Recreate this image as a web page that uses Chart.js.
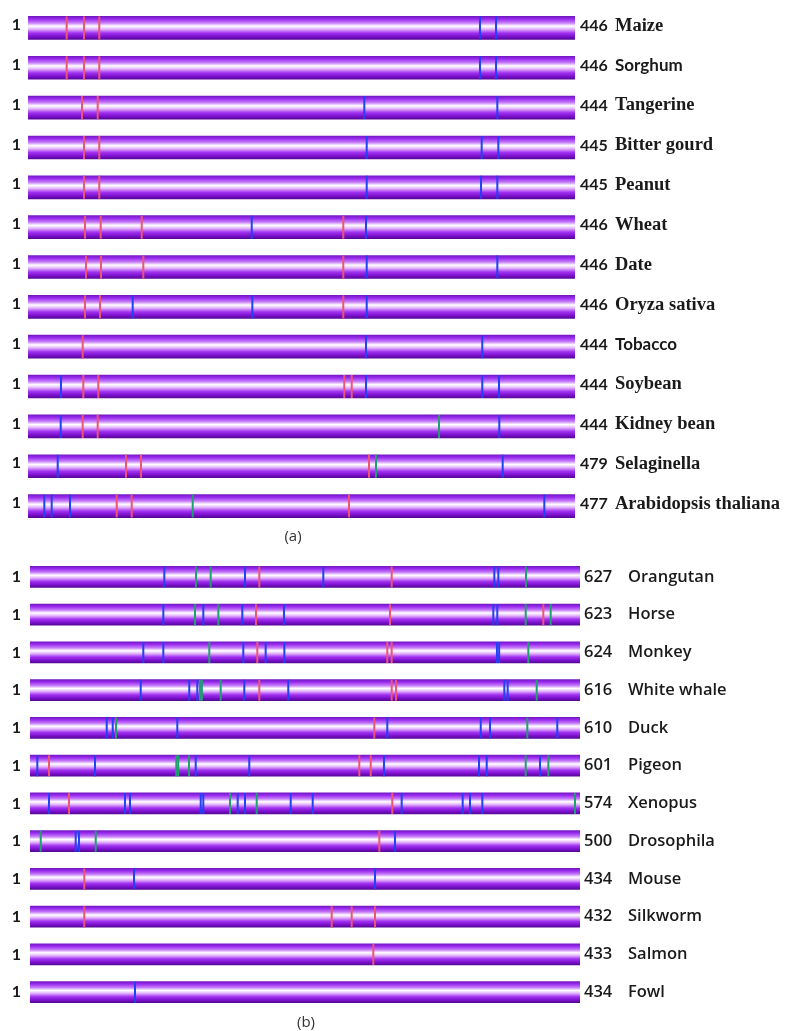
<!DOCTYPE html>
<html><head><meta charset="utf-8">
<script src="https://cdn.jsdelivr.net/npm/chart.js@4.4.1/dist/chart.umd.min.js"></script>
<style>
html,body{margin:0;padding:0;background:#fff;}
#wrap{position:relative;width:788px;height:1031px;overflow:hidden;background:#fff;}
canvas{position:absolute;left:0;}
#cA{top:-6px;} #cB{top:545px;}
.cap{position:absolute;font-family:'Open Sans',sans-serif;font-size:15px;color:#333;transform:translateX(-50%);line-height:20px;}
</style></head><body>
<div id="wrap">
<canvas id="cA" width="788" height="551"></canvas>
<canvas id="cB" width="788" height="486"></canvas>
<div class="cap" style="left:293px;top:525px">(a)</div>
<div class="cap" style="left:306px;top:1011px">(b)</div>
</div>
<script>
// ---------- Panel (a) data: relative position along each sequence bar (% of length) ----------
const speciesA = ['Maize','Sorghum','Tangerine','Bitter gourd','Peanut','Wheat','Date','Oryza sativa','Tobacco','Soybean','Kidney bean','Selaginella','Arabidopsis thaliana'];
const lengthsA = [446,446,444,445,445,446,446,446,444,444,444,479,477];
const redA = [
  [7.07,10.24,13.03],
  [7.07,10.24,13.03],
  [9.87,12.74],
  [10.24,13.03],
  [10.24,13.03],
  [10.42,13.29,20.79,57.64],
  [10.60,13.35,21.08,57.64],
  [10.42,13.16,57.64],
  [10.0],
  [10.11,12.85,57.82,59.18],
  [10.0,12.74],
  [17.92,20.66,62.34],
  [16.22,18.96,58.68]
];
const blueA = [
  [82.63,85.56],
  [82.63,85.56],
  [61.48,85.80],
  [61.92,82.94,85.98],
  [61.92,82.82,85.80],
  [40.90,61.79],
  [61.92,85.80],
  [19.14,41.01,61.92],
  [61.79,83.05],
  [6.03,61.79,83.05,86.11],
  [5.98,86.16],
  [5.43,86.78],
  [2.98,4.33,7.68,94.39]
];
const greenA = [[],[],[],[],[],[],[],[],[],[],[75.14],[63.62],[30.11]];

// ---------- Panel (b) data ----------
const speciesB = ['Orangutan','Horse','Monkey','White whale','Duck','Pigeon','Xenopus','Drosophila','Mouse','Silkworm','Salmon','Fowl'];
const lengthsB = [627,623,624,616,610,601,574,500,434,432,433,434];
const redB = [
  [41.69,65.76],
  [41.09,65.45,93.33],
  [41.33,64.96,65.76],
  [41.69,65.76,66.55],
  [62.6],
  [3.45,59.87,61.95],
  [7.09,65.87],
  [63.51],
  [9.87],
  [9.87,54.85,58.49,62.73],
  [62.42],
  []
];
const blueB = [
  [24.42,39.09,53.33,84.42,85.15],
  [24.24,31.51,38.6,46.18,84.24,84.96],
  [20.6,24.24,38.78,42.85,46.24,84.9,85.3],
  [20.13,28.96,30.42,38.96,46.96,86.24,86.85],
  [13.95,15.04,26.78,64.96,81.95,83.64,95.87],
  [1.33,11.82,30.13,39.87,64.36,81.64,83.04,92.73],
  [3.45,17.27,18.18,31.04,31.51,37.76,39.09,47.4,51.4,67.58,78.67,80.0,82.24],
  [8.31,8.91,66.36],
  [18.91,62.73],
  [],
  [],
  [19.09]
];
const greenB = [
  [30.18,32.85,90.18],
  [30.0,34.24,90.13,94.67],
  [32.6,90.6],
  [30.9,31.25,34.67,92.13],
  [15.64,90.42],
  [26.6,26.95,28.91,90.13,94.24],
  [36.36,41.22,99.09],
  [1.95,11.95],
  [],[],[],[]
];

// ---------- styling ----------
const COLORS = {red:'#ef5470', blue:'#2141f5', green:'#1f9e6e'};
const TEXT = '#1a1a1a';
const sansNamesA = new Set(['Sorghum','Tobacco']);

function toPoints(species, rows){
  return rows.flatMap((r,i)=>r.map(p=>({x:p, y:species[i]})));
}
function barGradient(barH){
  return (ctx)=>{
    const chart = ctx.chart;
    if(!chart.chartArea || ctx.dataIndex === undefined) return '#9a2ff0';
    const yc = chart.scales.y.getPixelForValue(ctx.dataIndex);
    const g = chart.ctx.createLinearGradient(0, yc - barH/2, 0, yc + barH/2);
    g.addColorStop(0.00,'#7418c4');
    g.addColorStop(0.12,'#9a2cf0');
    g.addColorStop(0.28,'#c67cf8');
    g.addColorStop(0.42,'#ffffff');
    g.addColorStop(0.55,'#e4b6fc');
    g.addColorStop(0.72,'#a232f0');
    g.addColorStop(0.88,'#7a10cc');
    g.addColorStop(1.00,'#570896');
    return g;
  };
}
function labelPlugin(species, lengths, st){
  return {
    id:'rightLabels',
    afterDraw(chart){
      const {ctx, chartArea} = chart;
      const ys = chart.scales.y;
      ctx.save();
      ctx.fillStyle = TEXT; ctx.textBaseline = 'middle'; ctx.textAlign = 'left';
      species.forEach((name,i)=>{
        const py = ys.getPixelForValue(i) + st.dy;
        ctx.font = st.numFont;
        ctx.fillText(String(lengths[i]), chartArea.right + st.numGap, py);
        ctx.font = st.nameFont(name);
        ctx.fillText(name, chartArea.right + st.nameGap, py);
      });
      ctx.restore();
    }
  };
}
function markDataset(data, color, barH){
  return {
    type:'scatter', data, order:0,
    pointStyle:'line', rotation:90,
    pointRadius:barH/2, pointHoverRadius:barH/2,
    borderColor:color, backgroundColor:color, borderWidth:2, pointBorderWidth:2, pointHoverBorderWidth:2
  };
}
function makeChart(id, species, lengths, red, blue, green, g){
  new Chart(document.getElementById(id), {
    type:'bar',
    data:{
      labels: species,
      datasets:[
        markDataset(toPoints(species, red), COLORS.red, g.barH),
        markDataset(toPoints(species, blue), COLORS.blue, g.barH),
        markDataset(toPoints(species, green), COLORS.green, g.barH),
        {
          type:'bar', order:5,
          data: species.map(()=>[0,100]),
          backgroundColor: barGradient(g.barH),
          borderWidth:0, barThickness:g.barH
        }
      ]
    },
    options:{
      indexAxis:'y', responsive:false, animation:false, events:[],
      layout:{padding:g.padding},
      plugins:{legend:{display:false}, tooltip:{enabled:false}, title:{display:false}},
      scales:{
        x:{type:'linear', min:0, max:100, display:false},
        y:{
          type:'category',
          grid:{display:false, drawTicks:false}, border:{display:false},
          ticks:{callback:()=> '1', padding:g.tickPad, labelOffset:g.labelOffset, color:TEXT, font:{family:'Lato', weight:'bold', size:16}},
          afterFit:(s)=>{ s.width = g.axisW; s.paddingTop = 0; s.paddingBottom = 0; }
        }
      }
    },
    plugins:[labelPlugin(species, lengths, g.labels)]
  });
}

makeChart('cA', speciesA, lengthsA, redA, blueA, greenA, {
  barH:23, padding:{top:14, bottom:19, left:0, right:213}, axisW:28, tickPad:7, labelOffset:-3,
  labels:{numFont:'bold 16px Lato', nameFont:(n)=> sansNamesA.has(n) ? 'bold 17px Lato' : 'bold 18.5px "Liberation Serif"', numGap:5, nameGap:40, dy:-2}
});
makeChart('cB', speciesB, lengthsB, redB, blueB, greenB, {
  barH:21, padding:{top:13, bottom:20, left:0, right:208}, axisW:30, tickPad:9, labelOffset:0,
  labels:{numFont:'600 16.5px "Open Sans"', nameFont:()=> '600 16.5px "Open Sans"', numGap:4, nameGap:48, dy:0}
});
</script>
</body></html>
